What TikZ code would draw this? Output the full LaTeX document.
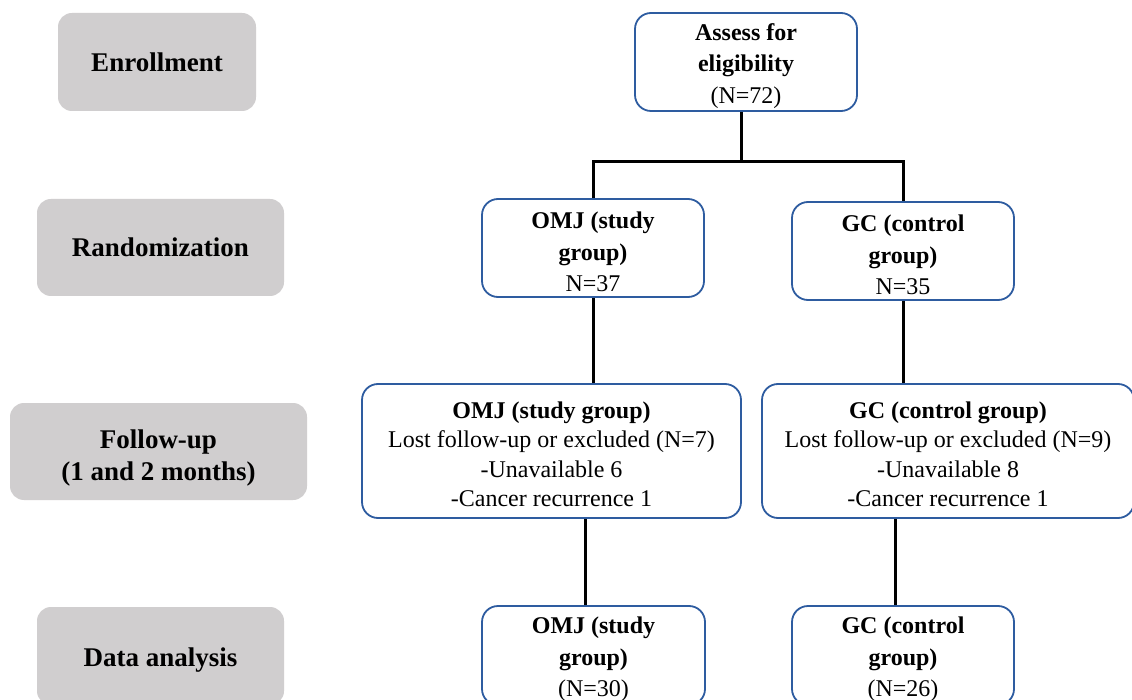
\documentclass[tikz,border=0pt]{standalone}
\usepackage{fontspec}
\setmainfont{Liberation Serif}
\definecolor{stageg}{RGB}{208,206,207}
\definecolor{boxblue}{RGB}{46,92,160}
\newcommand{\upstrut}[1]{\rule{0pt}{#1}}
\tikzset{
  stage/.style={fill=stageg, draw=none, rounded corners=14pt, inner sep=0pt,
     align=center, font=\fontsize{27}{32}\selectfont\bfseries},
  flowbox/.style={draw=boxblue, line width=1.8pt, fill=white, rounded corners=16pt,
     inner sep=0pt, align=center, font=\fontsize{24}{31.5}\selectfont},
  widebox/.style={flowbox, font=\fontsize{24}{29.5}\selectfont},
  conn/.style={line width=3pt, black}
}
\begin{document}
\begin{tikzpicture}[x=1pt,y=-1pt]
\clip (0,0) rectangle (1132,700);
\fill[white] (0,0) rectangle (1132,700);
% stage labels
\node[stage, minimum width=198pt, minimum height=98pt] (enr) at (157,62) {Enrollment};
\node[stage, minimum width=247pt, minimum height=97pt] (ran) at (160.5,247.5) {Randomization};
\node[stage, minimum width=297pt, minimum height=97pt] (fol) at (158.5,451.5) {\upstrut{31pt}Follow-up\\(1 and 2 months)};
\node[stage, minimum width=247pt, minimum height=98pt] (dat) at (160.5,656) {\upstrut{26pt}Data analysis};
% flow boxes
\node[flowbox, minimum width=222pt, minimum height=98pt] (assess) at (746,62)
  {\upstrut{25pt}\textbf{Assess for}\\\textbf{eligibility}\\(N=72)};
\node[flowbox, minimum width=222pt, minimum height=98pt] (omj1) at (593,248)
  {\upstrut{25pt}\textbf{OMJ (study}\\\textbf{group)}\\N=37};
\node[flowbox, minimum width=222pt, minimum height=98pt] (gc1) at (903,251)
  {\upstrut{25pt}\textbf{GC (control}\\\textbf{group)}\\N=35};
\node[widebox, minimum width=379pt, minimum height=134pt] (omj2) at (551.5,451)
  {\upstrut{23pt}\textbf{OMJ (study group)}\\Lost follow-up or excluded (N=7)\\-Unavailable 6\\-Cancer recurrence 1};
\node[widebox, minimum width=372pt, minimum height=134pt] (gc2) at (948,451)
  {\upstrut{23pt}\textbf{GC (control group)}\\Lost follow-up or excluded (N=9)\\-Unavailable 8\\-Cancer recurrence 1};
\node[flowbox, minimum width=223pt, minimum height=99pt] (omj3) at (593.5,655.5)
  {\upstrut{25pt}\textbf{OMJ (study}\\\textbf{group)}\\(N=30)};
\node[flowbox, minimum width=222pt, minimum height=99pt] (gc3) at (903,655.5)
  {\upstrut{25pt}\textbf{GC (control}\\\textbf{group)}\\(N=26)};
% connectors
\coordinate (split) at (741,162);
\draw[conn] (assess.south -| split) -- (split);
\draw[conn] (omj1.north) |- (split) -| (gc1.north);
\draw[conn] (omj1.south) -- (omj2.north -| omj1.south);
\draw[conn] (gc1.south) -- (gc2.north -| gc1.south);
\draw[conn] (omj2.south -| 585,0) -- (omj3.north -| 585,0);
\draw[conn] (gc2.south -| 895,0) -- (gc3.north -| 895,0);
\end{tikzpicture}
\end{document}
